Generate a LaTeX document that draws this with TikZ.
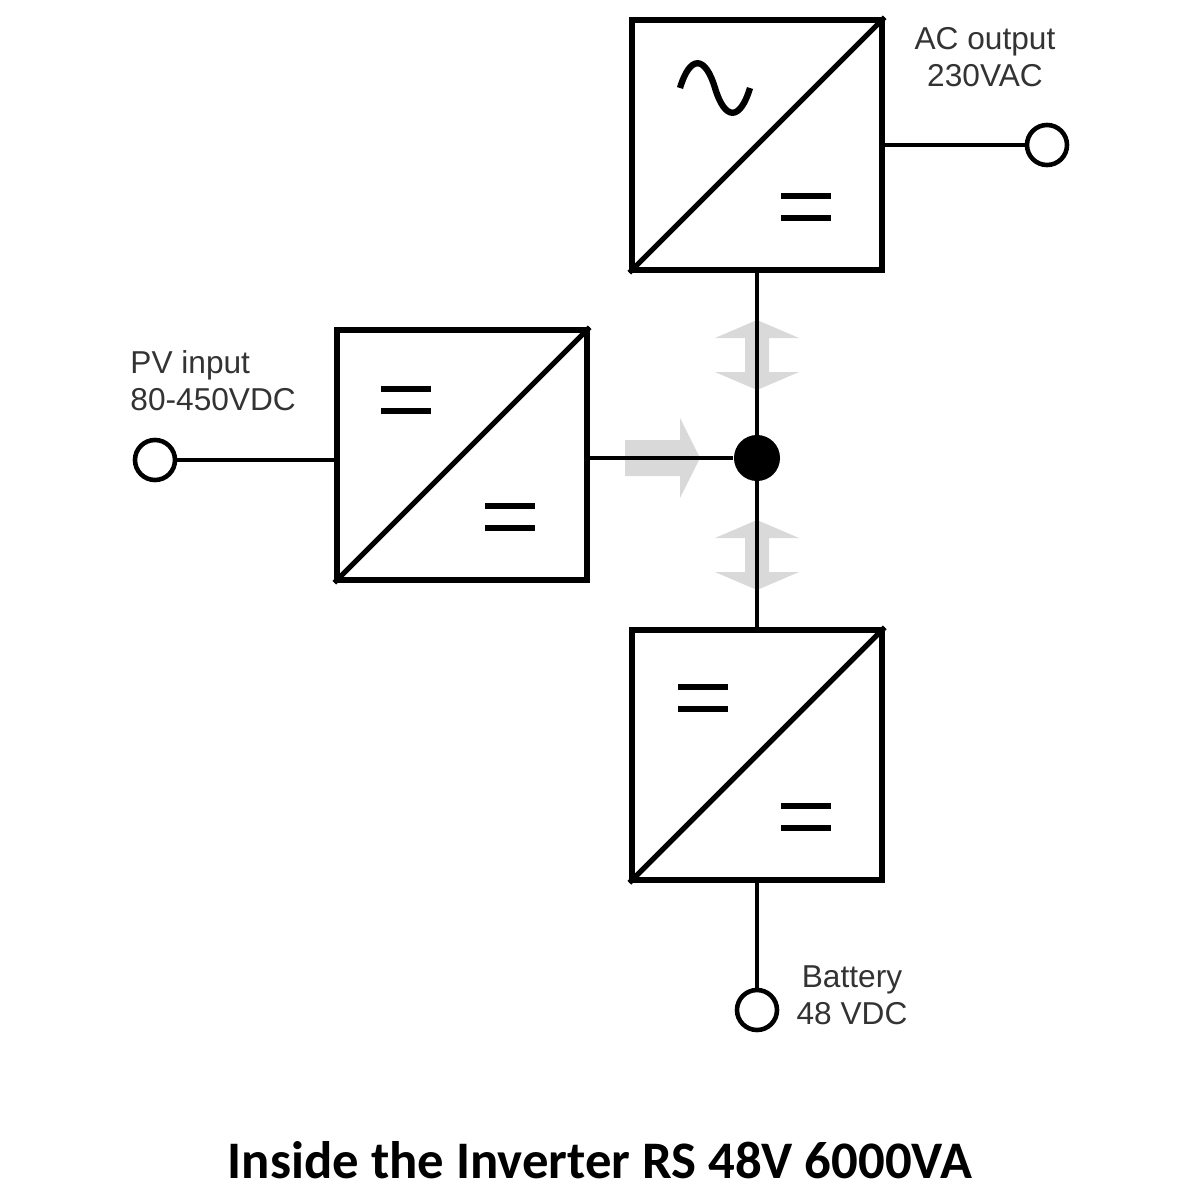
\documentclass[tikz,border=0pt]{standalone}
\usepackage{fontspec}
\setmainfont{Liberation Sans}
\newfontfamily\titlefont{Carlito}
\usetikzlibrary{arrows.meta,shapes.arrows}
\begin{document}
\begin{tikzpicture}[x=0.01cm,y=-0.01cm,
  conv/.style={draw,line width=1.5pt,minimum size=2.5cm,inner sep=0pt},
  wire/.style={line width=1.3pt},
  term/.style={circle,draw,line width=1.3pt,minimum size=0.4cm,inner sep=0pt,fill=white},
  eq/.style={line width=1.8pt},
  lbl/.style={font=\fontsize{9}{10.5}\selectfont,align=center,text=black!80},
  garrow/.style={fill=black!15,draw=none}]
\useasboundingbox (0,0) rectangle (1200,1200);
% boxes
\node[conv] (ac) at (757,145) {};
\node[conv] (pv) at (462,455) {};
\node[conv] (bat) at (757,755) {};
\foreach \b in {ac,pv,bat}{\draw[line width=1.5pt] (\b.south west) -- (\b.north east);}
% gray arrows
\fill[garrow] (625,440) -- (680,440) -- (680,418) -- (700,458) -- (680,498) -- (680,476) -- (625,476) -- cycle;
\foreach \ya/\yb in {320/390,520/590}{
 \fill[garrow] (745,\ya+18) -- (715,\ya+18) -- (757,\ya) -- (799,\ya+18) -- (769,\ya+18) -- (769,\yb-18) -- (799,\yb-18) -- (757,\yb) -- (715,\yb-18) -- (745,\yb-18) -- cycle;}
% junction
\node[circle,fill=black,minimum size=0.46cm,inner sep=0pt] (j) at (757,458) {};
\draw[wire] (ac.south) -- (bat.north);
\draw[wire] (pv.east |- j) -- (j);
% terminals
\node[term] (tpv) at (155,460) {};
\node[term] (tac) at (1047,145) {};
\node[term] (tbat) at (757,1010) {};
\draw[wire] (tpv) -- (pv.west |- tpv);
\draw[wire] (ac.east |- tac) -- (tac);
\draw[wire] (bat.south) -- (tbat);
% symbols
\draw[line width=1.8pt] (680,88) .. controls (690,55) and (705,55) .. (715,88) .. controls (725,121) and (740,121) .. (750,88);
\foreach \x/\y in {806/207,406/400,510/517,703/698,806/817}{
 \draw[eq] (\x-25,\y-11) -- (\x+25,\y-11);
 \draw[eq] (\x-25,\y+11) -- (\x+25,\y+11);}
% labels
\node[lbl] at (985,57) {AC output\\230VAC};
\node[lbl,align=left,anchor=west] at (118,381) {PV input\\80-450VDC};
\node[lbl] at (852,995) {Battery\\48 VDC};
\node[font=\titlefont\bfseries\fontsize{15}{18}\selectfont] at (600,1160) {Inside the Inverter RS 48V 6000VA};
\end{tikzpicture}
\end{document}
